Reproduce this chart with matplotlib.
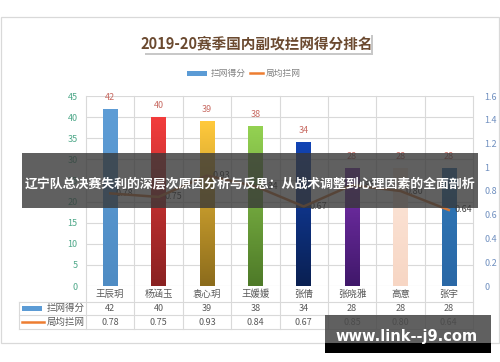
import numpy as np
import matplotlib
matplotlib.use("Agg")
import matplotlib.pyplot as plt
from matplotlib.patches import Rectangle
from matplotlib.colors import LinearSegmentedColormap

plt.rcParams['font.family'] = ['Noto Sans CJK SC', 'DejaVu Sans']

# data
players = ['王辰玥', '杨涵玉', '袁心玥', '王媛媛', '张倩', '张晓雅', '高意', '张宇']
blocks = [42, 40, 39, 38, 34, 28, 28, 28]
avg_blocks = [0.78, 0.75, 0.93, 0.84, 0.67, 0.85, 0.80, 0.64]
series_names = ['拦网得分', '局均拦网']
title = '2019-20赛季国内副攻拦网得分排名'
banner = '辽宁队总决赛失利的深层次原因分析与反思：从战术调整到心理因素的全面剖析'
watermark = 'www.link--j9.com'

# bar gradient colours (top, bottom)
bar_cols = [('#5E9DD6', '#4F8CC4'), ('#F23C3C', '#8A2222'), ('#FFC93C', '#8C6C1C'),
            ('#94D252', '#4E7A28'), ('#1244B4', '#0A2052'), ('#7C32B2', '#40186A'),
            ('#FDE7DA', '#F7D6C4'), ('#3078B8', '#2A68A6')]

grid_c = '#D9D9D9'
text_c = '#595959'
line_c = '#D0783A'

fig = plt.figure(figsize=(5, 3.62), dpi=100)

# background / frame in pixel coords
bg = fig.add_axes([0, 0, 1, 1])
bg.set_xlim(0, 500); bg.set_ylim(362, 0); bg.axis('off')
bg.add_patch(Rectangle((1, 17), 498, 326, fill=False, ec=grid_c, lw=0.9))
# title box with shadow
bg.add_patch(Rectangle((145, 35), 228, 20, fc='#C8C8C8', ec='none'))
bg.add_patch(Rectangle((143, 33), 228, 20, fc='white', ec='none'))
bg.text(257, 43.5, title, ha='center', va='center', fontsize=10.5,
        fontweight='bold', color='#6B4A30')
# legend
bg.add_patch(Rectangle((187, 71), 20, 4.5, fc='#5B9BD5', ec='none'))
bg.text(211, 73, series_names[0], ha='left', va='center', fontsize=6.3, color='#808080')
bg.plot([250, 263], [73, 73], color='#ED7D31', lw=1.8)
bg.text(266, 73, series_names[1], ha='left', va='center', fontsize=6.3, color='#808080')
# table legend keys
bg.add_patch(Rectangle((22, 306), 20, 4.5, fc='#5B9BD5', ec='none'))
bg.plot([22, 44], [322, 322], color='#ED7D31', lw=1.8)

ax = fig.add_axes([86 / 500, 1 - 286 / 362, 387 / 500, 190 / 362])
ax2 = ax.twinx()
x = np.arange(len(players))

ax.set_xlim(-0.5, len(players) - 0.5)
ax.set_ylim(0, 45)
ax.set_yticks(np.arange(0, 46, 5))
ax.set_xticks([])
ax.tick_params(axis='y', length=0, pad=6, labelsize=6.5, labelcolor='#4EA889')
for s in ax.spines.values():
    s.set_visible(False)
for s in ax2.spines.values():
    s.set_visible(False)
ax.set_facecolor('none')
for v in np.arange(0, 46, 5):
    ax.axhline(v, color=grid_c, lw=0.8, zorder=0)

# vertical grid lines through the data table
for b in np.arange(-0.5, len(players), 1.0):
    ax.plot([b, b], [1, -0.226], transform=ax.get_xaxis_transform(),
            color=grid_c, lw=0.8, clip_on=False, zorder=0)
ax.plot([-0.5 - 0.173 * 8, -0.5 - 0.173 * 8], [-0.084, -0.226],
        transform=ax.get_xaxis_transform(), color=grid_c, lw=0.8, clip_on=False)
for yy in [-0.084, -0.153, -0.226]:
    ax.plot([-0.5 - 0.173 * 8, len(players) - 0.5], [yy, yy],
            transform=ax.get_xaxis_transform(), color=grid_c, lw=0.8, clip_on=False)

# bars with vertical gradient
bars = ax.bar(x, blocks, width=0.3, color=[c[0] for c in bar_cols], zorder=2)
grad = np.linspace(1, 0, 100).reshape(-1, 1)
for bar, (top, bot) in zip(bars, bar_cols):
    cm = LinearSegmentedColormap.from_list('g', [bot, top])
    x0, y0 = bar.get_x(), bar.get_y()
    im = ax.imshow(grad, cmap=cm, aspect='auto', zorder=3,
                   extent=[x0, x0 + bar.get_width(), y0, y0 + bar.get_height()])
    im.set_clip_path(bar)
ax.set_xlim(-0.5, len(players) - 0.5)
ax.set_ylim(0, 45)
for xi, v in zip(x, blocks):
    ax.annotate(str(v), (xi, v), xytext=(0, 5), textcoords='offset points',
                ha='center', va='bottom', fontsize=6.5, color='#C86A62')

# line on secondary axis
ax2.set_ylim(0, 1.6)
ax2.set_yticks(np.arange(0, 1.61, 0.2))
ax2.set_yticklabels(['0', '0.2', '0.4', '0.6', '0.8', '1', '1.2', '1.4', '1.6'])
ax2.tick_params(axis='y', length=0, pad=8, labelsize=6.5, labelcolor='#7090C0')
ax2.plot(x, avg_blocks, color=line_c, lw=1.8, zorder=4)
for xi, v in zip(x, avg_blocks):
    ax2.annotate(f'{v:.2f}', (xi, v), xytext=(4, 0), textcoords='offset points',
                 ha='left', va='center', fontsize=6.5, color='#404040')

# data table text
tr = ax.get_xaxis_transform()
for xi, name, b, a in zip(x, players, blocks, avg_blocks):
    ax.text(xi, -0.042, name, transform=tr, ha='center', va='center', fontsize=6.8, color=text_c)
    ax.text(xi, -0.118, str(b), transform=tr, ha='center', va='center', fontsize=6.5, color=text_c)
    ax.text(xi, -0.19, f'{a:.2f}', transform=tr, ha='center', va='center', fontsize=6.5, color=text_c)
bg.text(47, 308.5, series_names[0], ha='left', va='center', fontsize=6.8, color=text_c)
bg.text(47, 322, series_names[1], ha='left', va='center', fontsize=6.8, color=text_c)

# overlay banner and watermark
ov = fig.add_axes([0, 0, 1, 1])
ov.set_zorder(10)
ov.patch.set_visible(False)
ov.set_xlim(0, 500); ov.set_ylim(362, 0); ov.axis('off')
ov.add_patch(Rectangle((22, 153), 456, 55, fc='#383838', ec='none', alpha=0.8))
ov.text(250, 183, banner, ha='center', va='center', fontsize=9.3,
        fontweight='bold', color='white')
ov.add_patch(Rectangle((325, 315), 166, 28, fc='#4A4A4A', ec='none', alpha=0.88))
ov.add_patch(Rectangle((325, 343), 166, 10, fc='black', ec='none'))
ov.text(407, 336, watermark, ha='center', va='center', fontsize=10.5,
        fontweight='bold', color='white', family='DejaVu Sans')

fig.savefig('out.png', dpi=100)
